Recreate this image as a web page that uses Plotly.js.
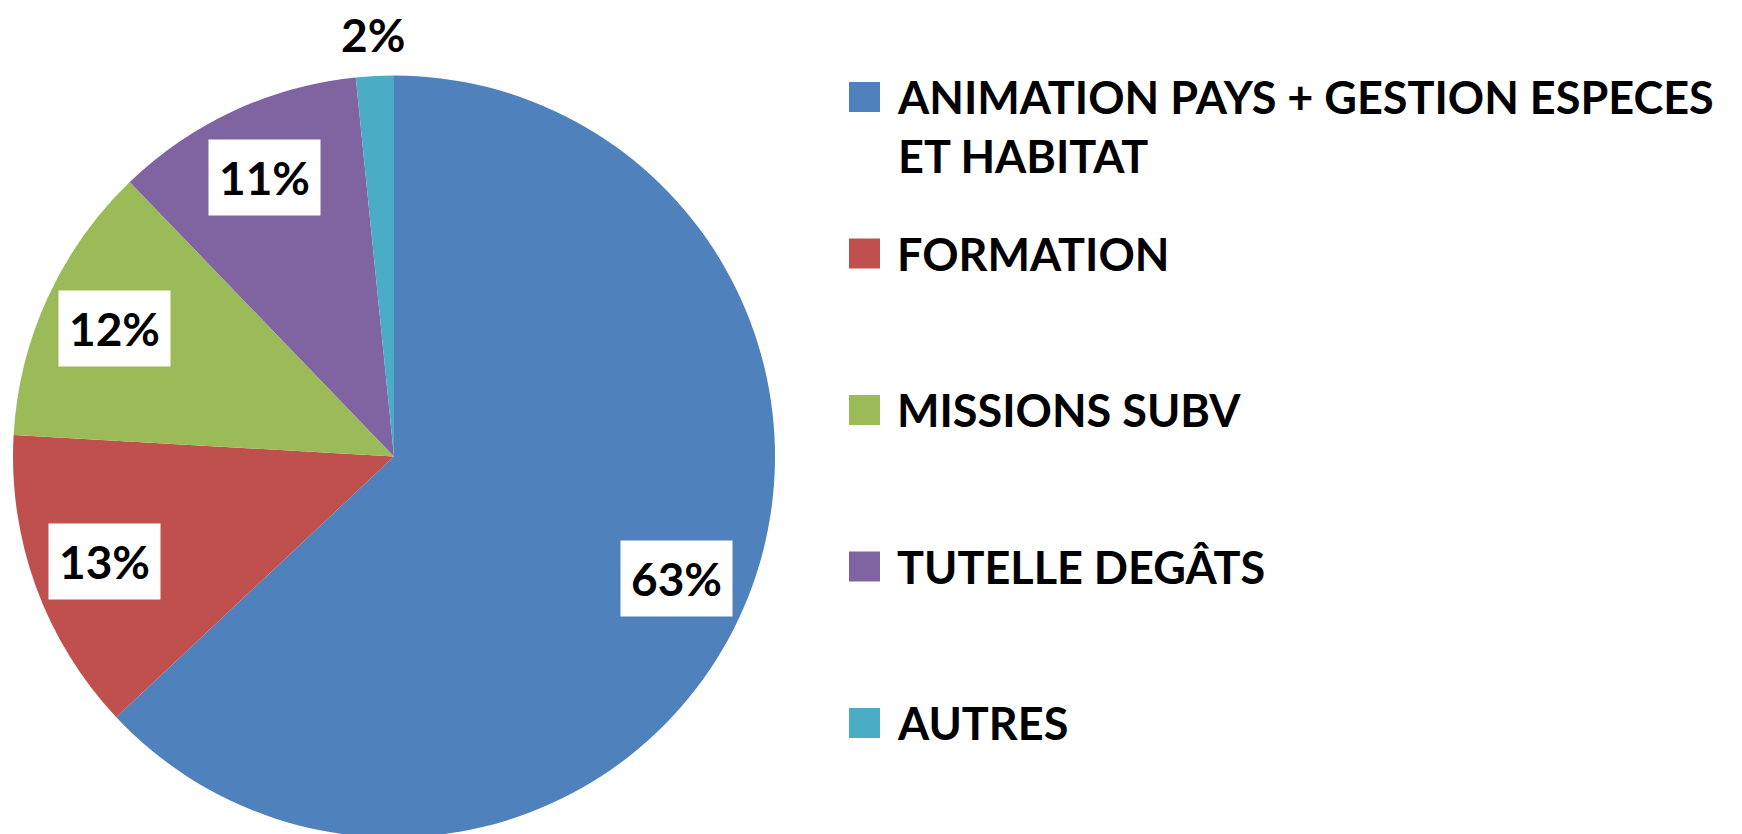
<!DOCTYPE html>
<html><head><meta charset="utf-8">
<script src="https://cdn.plot.ly/plotly-3.0.1.min.js"></script>
<style>html,body{margin:0;padding:0;overflow:hidden;background:#fff}#chart{width:1742px;height:840px}</style>
</head><body><div id="chart"></div>
<script>
// ---- data ----
const categories = ["ANIMATION PAYS + GESTION ESPECES<br>ET HABITAT", "FORMATION", "MISSIONS SUBV", "TUTELLE DEGÂTS", "AUTRES"];
const values = [63.0, 12.9, 11.9, 10.6, 1.6];
const colors = ["#4F81BD", "#C0504D", "#9BBB59", "#8064A2", "#4BACC6"];

// ---- layout geometry ----
const W = 1742, H = 840;
const FONT = "Lato, 'Open Sans', sans-serif";
const pieLeft = 13, pieRight = 775, pieTop = 75.5, pieBottom = 837.5;
const domain = {x: [pieLeft / W, pieRight / W], y: [1 - pieBottom / H, 1 - pieTop / H]};
const cx = (pieLeft + pieRight) / 2, cy = (pieTop + pieBottom) / 2;
const R = Math.min(pieRight - pieLeft, pieBottom - pieTop) / 2;

// percentage labels placed from the data (mid-angle of each slice)
const total = values.reduce((a, b) => a + b, 0);
let cum = 0;
const annotations = values.map((v) => {
  const f = v / total;
  const mid = 2 * Math.PI * (cum + f / 2);
  cum += f;
  const small = f < 0.05;
  const rf = small ? 1.108 : 0.808;
  const px = cx + R * rf * Math.sin(mid);
  const py = cy - R * rf * Math.cos(mid);
  return {
    xref: 'paper', yref: 'paper', x: px / W, y: 1 - py / H,
    xanchor: 'center', yanchor: 'middle', showarrow: false,
    text: Math.round(f * 100) + '%',
    font: {family: FONT, size: 46, color: '#000', weight: 700},
    bgcolor: small ? 'rgba(0,0,0,0)' : '#ffffff', borderpad: small ? 0 : 10
  };
});

// legend (Excel-style: large squares, evenly spread entries)
const LEG_FONT = 45, LINE_H = LEG_FONT * 1.3;
const legTop = 97, legStep = 156.5, sqL = 849, sqR = 880, sqHalf = 15, textX = 896;
const shapes = [];
categories.forEach((c, i) => {
  const yc = legTop + legStep * i;
  shapes.push({
    type: 'rect', xref: 'paper', yref: 'paper',
    x0: sqL / W, x1: sqR / W, y0: 1 - (yc + sqHalf) / H, y1: 1 - (yc - sqHalf) / H,
    fillcolor: colors[i], line: {width: 0}
  });
  const nLines = c.split('<br>').length;
  annotations.push({
    xref: 'paper', yref: 'paper', x: textX / W, y: 1 - (yc + (nLines - 1) * LINE_H / 2) / H,
    xanchor: 'left', yanchor: 'middle', align: 'left', showarrow: false,
    text: c, borderpad: 0,
    font: {family: FONT, size: LEG_FONT, color: '#000', weight: 700}
  });
});

const trace = {
  type: 'pie', labels: categories, values: values, sort: false,
  direction: 'clockwise', rotation: 0, domain: domain,
  marker: {colors: colors, line: {width: 0}},
  textinfo: 'none', hoverinfo: 'label+percent', showlegend: false
};

const layout = {
  width: W, height: H,
  margin: {l: 0, r: 0, t: 0, b: 0, pad: 0, autoexpand: false},
  paper_bgcolor: '#fff', plot_bgcolor: '#fff',
  showlegend: false,
  annotations: annotations,
  shapes: shapes
};

Plotly.newPlot('chart', [trace], layout, {displayModeBar: false, staticPlot: true});
</script>
</body></html>
